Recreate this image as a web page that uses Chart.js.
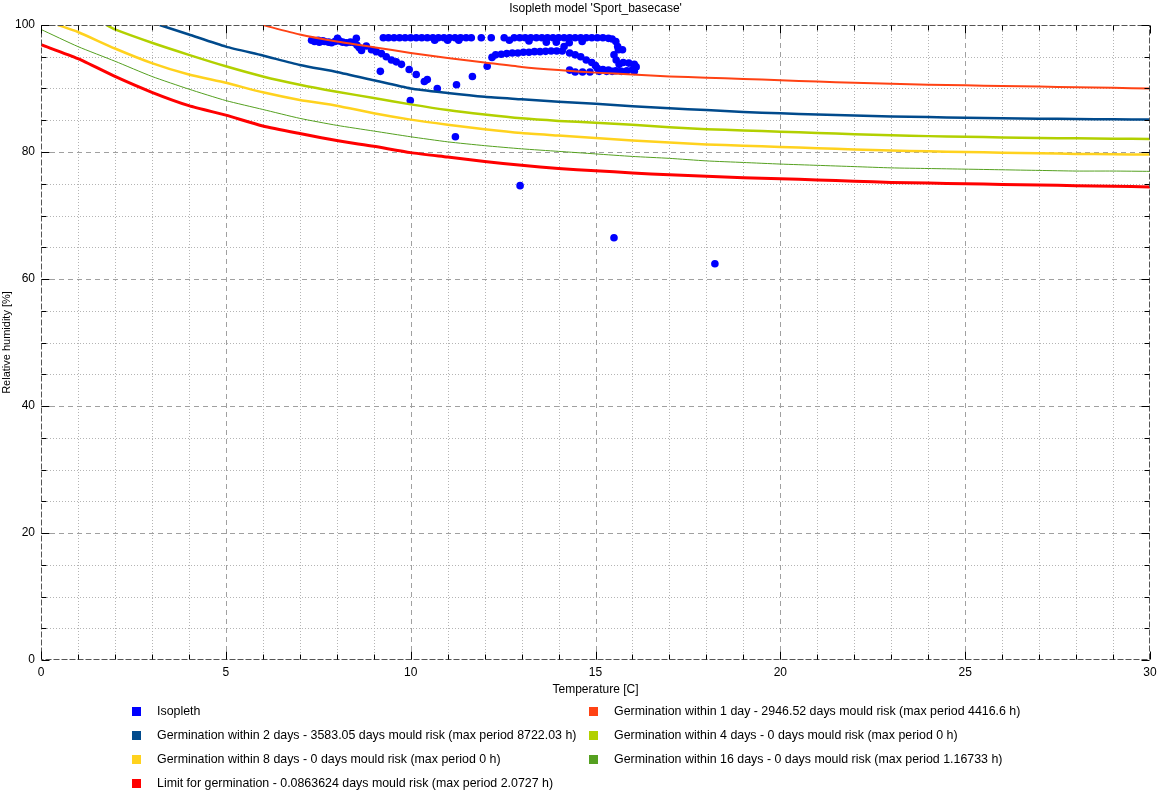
<!DOCTYPE html>
<html>
<head>
<meta charset="utf-8">
<script src="https://cdn.jsdelivr.net/npm/chart.js@4.4.1/dist/chart.umd.min.js"></script>
<style>
  body { margin:0; background:#fff; font-family:"Liberation Sans", Arial, sans-serif; }
  #wrap { position:absolute; left:0; top:0; width:1157px; height:700px; }
  #legend { position:absolute; left:132px; top:699px; display:grid; grid-template-columns:457px auto; font-size:12.4px; color:#000; }
  #legend div { height:24px; line-height:24px; white-space:nowrap; }
  #legend span { display:inline-block; width:9px; height:9px; margin-right:16px; vertical-align:-1px; }
</style>
</head>
<body>
<div id="wrap"><canvas id="chart"></canvas></div>
<div id="legend"></div>
<script>
// scatter: measured temperature / relative humidity
const isoT = [7.32,7.40,7.50,7.53,7.62,7.67,7.78,7.86,7.95,8.07,8.16,8.26,8.37,8.48,8.55,8.61,8.67,8.80,8.94,9.07,9.21,9.34,9.48,9.61,9.75,9.96,10.15,
  9.18,9.99,10.37,10.45,10.72,11.24,11.67,12.07,11.21,12.96,15.5,18.23,
  8.02,8.53,9.26,9.4,9.55,9.7,9.85,10.0,10.15,10.3,10.45,10.6,10.65,10.75,10.9,11.0,11.05,11.2,11.3,11.35,11.5,11.64,11.91,12.18,12.53,12.67,
  12.8,12.95,13.1,13.25,13.4,13.55,13.7,13.85,14.0,14.15,14.3,14.45,14.6,14.75,14.9,15.05,15.2,15.35,13.2,13.67,13.94,14.29,14.64,
  15.45,15.55,15.6,15.62,15.73,15.5,15.56,15.64,
  15.75,15.9,16.05,16.1,16.0,15.85,15.7,15.55,16.05,
  12.2,12.3,12.45,12.6,12.75,12.9,13.05,13.2,13.35,13.5,13.65,13.8,13.95,14.1,14.15,14.3,14.45,14.6,14.75,14.9,15.0,15.05,15.2,15.35,
  14.3,14.45,14.65,14.85,15.1,15.3,15.45];
const isoRH = [97.6,97.4,97.6,97.3,97.5,97.4,97.3,97.2,97.4,97.5,97.3,97.2,97.3,97.2,96.8,96.4,96.0,96.7,96.1,95.8,95.5,95.0,94.5,94.2,93.8,93.0,92.2,
  92.7,88.1,91.1,91.4,90.0,90.6,91.9,93.5,82.4,74.7,66.5,62.4,
  97.9,97.9,98.0,98.0,98.0,98.0,98.0,98.0,98.0,98.0,98.0,98.0,97.6,98.0,98.0,97.6,98.0,98.0,97.6,98.0,98.0,98.0,98.0,98.0,98.0,97.6,
  98.0,98.0,98.0,98.0,98.0,98.0,98.0,98.0,98.0,98.0,98.0,98.0,98.0,98.0,98.0,98.0,98.0,97.9,97.5,97.3,97.3,97.2,97.4,
  97.8,97.4,96.6,96.1,96.1,95.3,94.5,93.8,
  94.1,94.0,93.8,93.4,93.0,92.8,92.7,92.8,92.7,
  94.9,95.3,95.4,95.5,95.6,95.6,95.7,95.7,95.8,95.8,95.85,95.9,95.9,95.9,96.6,95.6,95.3,95.0,94.5,94.1,93.6,93.2,93.0,92.9,
  92.9,92.6,92.6,92.6,92.7,92.7,92.7];

// isopleth curves (temperature, RH)
const day1T = [6.0,7,8,9,10,11,12,13,14,15,16,17,18,19,20,21,22,23,24,25,26,27,28,29,30];
const day1RH = [100,98.5,97.4,96.5,95.6,94.8,94.1,93.4,92.9,92.5,92.2,91.9,91.7,91.5,91.3,91.1,90.9,90.75,90.6,90.5,90.4,90.3,90.2,90.1,90.0];
const day2T = [3.21,4,5,6,7,8,9,10,11,12,13,14,15,16,17,18,19,20,21,22,23,24,25,26,27,28,29,30];
const day2RH = [100,98.5,96.6,95.2,93.7,92.6,91.3,90.0,89.3,88.7,88.3,87.9,87.6,87.2,86.9,86.6,86.3,86.1,85.9,85.75,85.6,85.5,85.4,85.3,85.25,85.2,85.15,85.1];
const day4T = [1.77,2,3,4,5,6,7,8,9,10,11,12,13,14,15,16,17,18,19,20,21,22,23,24,25,26,27,28,29,30];
const day4RH = [100,99.3,97.2,95.3,93.5,91.9,90.6,89.5,88.5,87.5,86.6,85.9,85.3,84.9,84.6,84.3,83.9,83.6,83.4,83.2,83.0,82.8,82.65,82.5,82.4,82.3,82.2,82.15,82.1,82.05];
const day8T = [0.46,1,2,3,4,5,6,7,8,9,10,11,12,13,14,15,16,17,18,19,20,21,22,23,24,25,26,27,28,29,30];
const day8RH = [100,98.9,96.3,94.0,92.2,90.9,89.4,88.2,87.3,86.1,85.1,84.3,83.6,83.0,82.6,82.2,81.8,81.5,81.2,81.0,80.8,80.6,80.4,80.25,80.1,80.0,79.9,79.8,79.7,79.65,79.6];
const day16T = [0,1,2,3,4,5,6,7,8,9,10,11,12,13,14,15,16,17,18,19,20,21,22,23,24,25,26,27,28,29,30];
const day16RH = [99.3,96.6,94.3,91.9,89.9,88.1,86.7,85.3,84.2,83.3,82.4,81.6,81.0,80.5,80.1,79.7,79.3,79.0,78.6,78.35,78.1,77.9,77.7,77.5,77.4,77.3,77.2,77.1,77.0,77.0,76.95];
const limitT = [0,1,2,3,4,5,6,7,8,9,10,11,12,13,14,15,16,17,18,19,20,21,22,23,24,25,26,27,28,29,30];
const limitRH = [96.9,94.7,91.9,89.4,87.3,85.8,84.1,82.9,81.8,80.9,79.9,79.2,78.5,77.9,77.4,77.05,76.7,76.4,76.2,75.95,75.8,75.6,75.4,75.2,75.1,75.0,74.9,74.8,74.7,74.6,74.5];

const xTicks = [0,5,10,15,20,25,30];
const yTicks = [0,20,40,60,80,100];

function pts(t, v){ return t.map((x,i) => ({x:x, y:v[i]})); }

const series = [
  {label:'Isopleth', color:'#0000ff', data:pts(isoT,isoRH), scatter:true},
  {label:'Germination within 1 day - 2946.52 days mould risk (max period 4416.6 h)', color:'#ff4214', data:pts(day1T,day1RH), width:2},
  {label:'Germination within 2 days - 3583.05 days mould risk (max period 8722.03 h)', color:'#004a8c', data:pts(day2T,day2RH), width:2.5},
  {label:'Germination within 4 days - 0 days mould risk (max period 0 h)', color:'#b2d000', data:pts(day4T,day4RH), width:2.5},
  {label:'Germination within 8 days - 0 days mould risk (max period 0 h)', color:'#ffd21e', data:pts(day8T,day8RH), width:2.5},
  {label:'Germination within 16 days - 0 days mould risk (max period 1.16733 h)', color:'#55a020', data:pts(day16T,day16RH), width:1},
  {label:'Limit for germination - 0.0863624 days mould risk (max period 2.0727 h)', color:'#ff0000', data:pts(limitT,limitRH), width:3}
];

const datasets = series.map(s => s.scatter ? {
    type:'scatter', label:s.label, data:s.data, backgroundColor:s.color, borderWidth:0,
    pointRadius:3.8, pointHoverRadius:3.8, order:10
  } : {
    type:'line', label:s.label, data:s.data, borderColor:s.color, backgroundColor:s.color,
    borderWidth:s.width, pointRadius:0, tension:0.2, fill:false, order:1
  });

// grid, frame and inner tick marks
const framePlugin = {
  id:'frame',
  beforeDatasetsDraw(chart){
    const {ctx, chartArea:a, scales:{x, y}} = chart;
    ctx.save();
    ctx.lineWidth = 1;
    ctx.strokeStyle = '#b4b4b4';
    ctx.setLineDash([1,2]);
    for (let v = 1; v < 30; v++) {
      if (v % 5 === 0) continue;
      const px = Math.round(x.getPixelForValue(v)) + 0.5;
      ctx.beginPath(); ctx.moveTo(px, a.top); ctx.lineTo(px, a.bottom); ctx.stroke();
    }
    for (let v = 5; v < 100; v += 5) {
      if (v % 20 === 0) continue;
      const py = Math.round(y.getPixelForValue(v)) + 0.5;
      ctx.beginPath(); ctx.moveTo(a.left, py); ctx.lineTo(a.right, py); ctx.stroke();
    }
    ctx.strokeStyle = '#a0a0a0';
    ctx.setLineDash([5,4]);
    xTicks.slice(1,-1).forEach(v => {
      const px = Math.round(x.getPixelForValue(v)) + 0.5;
      ctx.beginPath(); ctx.moveTo(px, a.top); ctx.lineTo(px, a.bottom); ctx.stroke();
    });
    yTicks.slice(1,-1).forEach(v => {
      const py = Math.round(y.getPixelForValue(v)) + 0.5;
      ctx.beginPath(); ctx.moveTo(a.left, py); ctx.lineTo(a.right, py); ctx.stroke();
    });
    ctx.restore();
  },
  afterDatasetsDraw(chart){
    const {ctx, chartArea:a, scales:{x, y}} = chart;
    const l = Math.round(a.left) + 0.5, r = Math.round(a.right) - 0.5;
    const t = Math.round(a.top) + 0.5, b = Math.round(a.bottom) - 0.5;
    ctx.save();
    ctx.lineWidth = 1;
    ctx.strokeStyle = '#555';
    ctx.setLineDash([6,2]);
    ctx.beginPath();
    ctx.moveTo(l, t); ctx.lineTo(r, t); ctx.lineTo(r, b); ctx.lineTo(l, b); ctx.closePath();
    ctx.stroke();
    ctx.setLineDash([]);
    ctx.strokeStyle = '#000';
    for (let v = 0; v <= 30; v++) {
      const len = v % 5 === 0 ? 8 : 5;
      const px = Math.round(x.getPixelForValue(v)) + 0.5;
      ctx.beginPath(); ctx.moveTo(px, b); ctx.lineTo(px, b - len); ctx.stroke();
      ctx.beginPath(); ctx.moveTo(px, t); ctx.lineTo(px, t + len); ctx.stroke();
    }
    for (let v = 0; v <= 100; v += 5) {
      const len = v % 20 === 0 ? 8 : 5;
      const py = Math.round(y.getPixelForValue(v)) + 0.5;
      ctx.beginPath(); ctx.moveTo(l, py); ctx.lineTo(l + len, py); ctx.stroke();
      ctx.beginPath(); ctx.moveTo(r, py); ctx.lineTo(r - len, py); ctx.stroke();
    }
    ctx.restore();
  },
  afterDraw(chart){
    const {ctx, chartArea:a} = chart;
    ctx.save();
    ctx.font = '12px "Liberation Sans", Arial, sans-serif';
    ctx.fillStyle = '#000';
    ctx.textAlign = 'center';
    ctx.textBaseline = 'middle';
    ctx.fillText("Isopleth model 'Sport_basecase'", (a.left + a.right) / 2, 9);
    ctx.restore();
  }
};

const font = {family:'"Liberation Sans", Arial, sans-serif', size:12};

new Chart(document.getElementById('chart'), {
  data:{datasets:datasets},
  options:{
    responsive:true,
    maintainAspectRatio:false,
    animation:false,
    layout:{padding:{top:25, right:7, left:0, bottom:0}},
    plugins:{legend:{display:false}, tooltip:{enabled:false}},
    scales:{
      x:{
        type:'linear', min:0, max:30,
        afterBuildTicks: s => { s.ticks = xTicks.map(v => ({value:v})); },
        afterFit: s => { s.height = 40; s.paddingLeft = 0; s.paddingRight = 0; },
        ticks:{font:font, color:'#000', padding:5, maxRotation:0},
        grid:{display:false, drawTicks:false},
        border:{display:false},
        title:{display:true, text:'Temperature [C]', font:font, color:'#000', padding:{top:0, bottom:3}}
      },
      y:{
        type:'linear', min:0, max:100,
        afterBuildTicks: s => { s.ticks = yTicks.map(v => ({value:v})); },
        afterFit: s => { s.width = 41; s.paddingTop = 0; s.paddingBottom = 0; },
        ticks:{font:font, color:'#000', padding:6},
        grid:{display:false, drawTicks:false},
        border:{display:false},
        title:{display:true, text:'Relative humidity [%]', font:{family:font.family, size:11}, color:'#000', padding:{top:0, bottom:0}}
      }
    }
  },
  plugins:[framePlugin]
});

// legend: two columns, same order as the datasets
const legend = document.getElementById('legend');
series.forEach(s => {
  const row = document.createElement('div');
  const box = document.createElement('span');
  box.style.background = s.color;
  row.appendChild(box);
  row.appendChild(document.createTextNode(s.label));
  legend.appendChild(row);
});
</script>
</body>
</html>
